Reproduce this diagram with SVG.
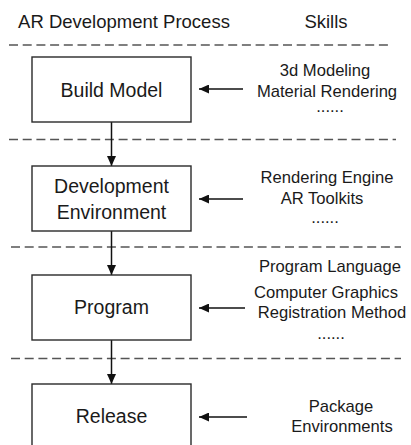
<svg xmlns="http://www.w3.org/2000/svg" width="411" height="445" viewBox="0 0 411 445">
  <defs>
    <marker id="arrow" markerUnits="userSpaceOnUse" markerWidth="10" markerHeight="9" refX="10" refY="4.5" orient="auto">
      <path d="M0,0 L10,4.5 L0,9 z" fill="#111"/>
    </marker>
    <style>
      text { font-family: "Liberation Sans", Arial, sans-serif; fill: #1a1a1a; text-anchor: middle; }
      .head { font-size: 18.5px; }
      .label { font-size: 19.5px; }
      .skill { font-size: 16.6px; }
      .box { fill: #fff; stroke: #2a2a2a; stroke-width: 1.4; }
      .sep { stroke: #555; stroke-width: 1.4; stroke-dasharray: 9 4.7; fill: none; }
      .flow { stroke: #111; stroke-width: 1.5; fill: none; marker-end: url(#arrow); }
    </style>
  </defs>

  <rect width="411" height="445" fill="#fff"/>

  <!-- column headings -->
  <g id="headings">
    <text class="head" x="124" y="27.5">AR Development Process</text>
    <text class="head" x="326" y="27.5">Skills</text>
  </g>

  <!-- stage separators -->
  <g id="separators">
    <line class="sep" x1="9" y1="45" x2="388" y2="45"/>
    <line class="sep" x1="9" y1="139.5" x2="396" y2="139.5"/>
    <line class="sep" x1="11" y1="247" x2="401" y2="247"/>
    <line class="sep" x1="11" y1="358.5" x2="401" y2="358.5"/>
  </g>

  <!-- connectors -->
  <g id="connectors">
    <line class="flow" x1="111.5" y1="122" x2="111.5" y2="166"/>
    <line class="flow" x1="111.5" y1="231" x2="111.5" y2="275"/>
    <line class="flow" x1="111.5" y1="340" x2="111.5" y2="384"/>
    <line class="flow" x1="243" y1="89" x2="199" y2="89"/>
    <line class="flow" x1="243" y1="199" x2="199" y2="199"/>
    <line class="flow" x1="245" y1="308" x2="199" y2="308"/>
    <line class="flow" x1="247" y1="417" x2="199" y2="417"/>
  </g>

  <!-- process stages -->
  <g id="build-model">
    <rect class="box" x="32" y="57" width="159" height="65"/>
    <text class="label" x="111.5" y="97">Build Model</text>
  </g>
  <g id="development-environment">
    <rect class="box" x="32" y="166" width="159" height="65"/>
    <text class="label" x="111.5" y="193">Development</text>
    <text class="label" x="111.5" y="219">Environment</text>
  </g>
  <g id="program">
    <rect class="box" x="32" y="275" width="159" height="65"/>
    <text class="label" x="111.5" y="314">Program</text>
  </g>
  <g id="release">
    <rect class="box" x="32" y="384" width="159" height="66"/>
    <text class="label" x="111.5" y="423">Release</text>
  </g>

  <!-- skills per stage -->
  <g id="skills-build-model">
    <text class="skill" x="325" y="76">3d Modeling</text>
    <text class="skill" x="327" y="97">Material Rendering</text>
    <text class="skill" x="330" y="112">......</text>
  </g>
  <g id="skills-development-environment">
    <text class="skill" x="327" y="183">Rendering Engine</text>
    <text class="skill" x="322" y="204">AR Toolkits</text>
    <text class="skill" x="325" y="223">......</text>
  </g>
  <g id="skills-program">
    <text class="skill" x="330" y="272">Program Language</text>
    <text class="skill" x="326" y="298">Computer Graphics</text>
    <text class="skill" x="332" y="318">Registration Method</text>
    <text class="skill" x="331" y="339">......</text>
  </g>
  <g id="skills-release">
    <text class="skill" x="341" y="412">Package</text>
    <text class="skill" x="342" y="432">Environments</text>
  </g>
</svg>
